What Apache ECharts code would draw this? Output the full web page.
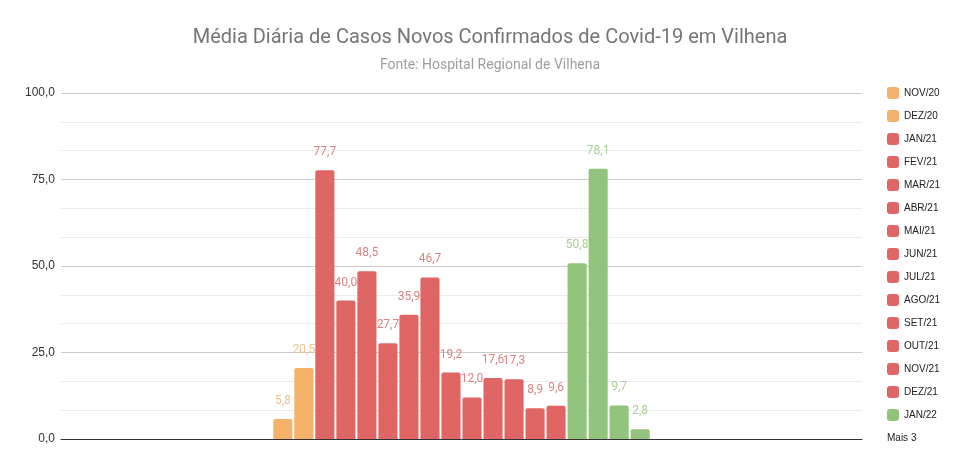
<!DOCTYPE html>
<html>
<head>
<meta charset="utf-8">
<script src="https://cdn.jsdelivr.net/npm/echarts@6/dist/echarts.min.js"></script>
<style>
  html, body { margin: 0; padding: 0; background: #fff; }
  #chart { width: 980px; height: 471px; }
</style>
</head>
<body>
<div id="chart"></div>
<script>
// Monthly series (one bar per month)
const months = ['NOV/20', 'DEZ/20', 'JAN/21', 'FEV/21', 'MAR/21', 'ABR/21', 'MAI/21', 'JUN/21',
    'JUL/21', 'AGO/21', 'SET/21', 'OUT/21', 'NOV/21', 'DEZ/21', 'JAN/22', 'FEV/22', 'MAR/22', 'ABR/22'];
const values = [5.8, 20.5, 77.7, 40.0, 48.5, 27.7, 35.9, 46.7, 19.2, 12.0, 17.6, 17.3, 8.9, 9.6, 50.8, 78.1, 9.7, 2.8];
const years = ['2020', '2020', '2021', '2021', '2021', '2021', '2021', '2021', '2021', '2021', '2021', '2021', '2021', '2021', '2022', '2022', '2022', '2022'];
const legendShown = months.slice(0, 15);

const yearColors = { '2020': '#f6b26b', '2021': '#e06666', '2022': '#93c47d' };
const labelColors = { '2020': '#edc08f', '2021': '#d98585', '2022': '#a9cf98' };

const chart = echarts.init(document.getElementById('chart'));

const series = months.map((name, i) => ({
    name: name,
    type: 'bar',
    data: [values[i]],
    barGap: '10%',
    barCategoryGap: '53%',
    itemStyle: { color: yearColors[years[i]], borderRadius: [2, 2, 0, 0] },
    label: {
        show: true,
        position: 'top',
        distance: 12,
        color: labelColors[years[i]],
        fontSize: 12,
        fontFamily: 'Roboto',
        formatter: p => p.value.toFixed(1).replace('.', ',')
    }
}));

const option = {
    animation: false,
    title: {
        text: 'Média Diária de Casos Novos Confirmados de Covid-19 em Vilhena',
        subtext: 'Fonte: Hospital Regional de Vilhena',
        left: 'center',
        top: 23,
        itemGap: 10,
        textStyle: { fontSize: 20, fontWeight: 'normal', color: '#757575', fontFamily: 'Roboto' },
        subtextStyle: { fontSize: 14, color: '#9e9e9e', fontFamily: 'Roboto' }
    },
    legend: {
        data: legendShown,
        orient: 'vertical',
        left: 882,
        top: 82,
        itemWidth: 12,
        itemHeight: 12,
        itemGap: 11,
        icon: 'roundRect',
        textStyle: { fontSize: 10, color: '#222', fontFamily: 'Arial' }
    },
    graphic: [{
        type: 'text',
        left: 887,
        top: 433,
        style: { text: 'Mais 3', fontSize: 10, fill: '#222', fontFamily: 'Arial' }
    }],
    grid: { left: 61, right: 118, top: 93, bottom: 32 },
    xAxis: {
        type: 'category',
        data: [''],
        axisLine: { lineStyle: { color: '#333', width: 1 } },
        axisTick: { show: false },
        axisLabel: { show: false }
    },
    yAxis: {
        type: 'value',
        min: 0,
        max: 100,
        interval: 25,
        axisLine: { show: false },
        axisTick: { show: false },
        axisLabel: {
            color: '#333',
            fontSize: 12,
            fontFamily: 'Arial',
            margin: 6,
            formatter: v => v.toFixed(1).replace('.', ',')
        },
        splitLine: { lineStyle: { color: '#cccccc' } },
        minorTick: { show: false, splitNumber: 3 },
        minorSplitLine: { show: true, lineStyle: { color: '#ebebeb' } }
    },
    series: series
};

chart.setOption(option);
</script>
</body>
</html>
